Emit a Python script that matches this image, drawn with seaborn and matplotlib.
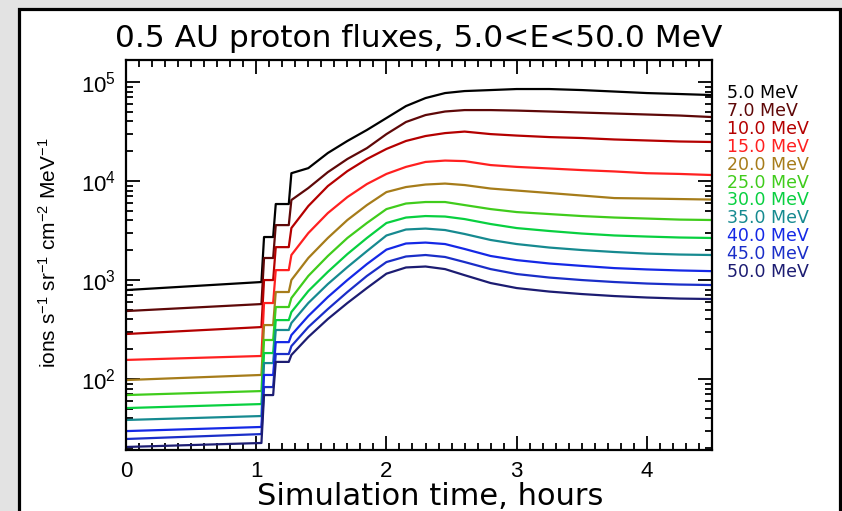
import numpy as np
import pandas as pd
import matplotlib
matplotlib.use("Agg")
import matplotlib.pyplot as plt
import seaborn as sns
from matplotlib.patches import Rectangle
from matplotlib.ticker import (LogLocator, FixedLocator, MultipleLocator,
                               FuncFormatter, NullFormatter)

# ---------------- data ----------------
time_h = [0, 1.04, 1.06, 1.13, 1.15, 1.25, 1.27, 1.4, 1.55, 1.7, 1.85, 2.0,
          2.15, 2.3, 2.45, 2.6, 2.8, 3.0, 3.25, 3.5, 3.75, 4.0, 4.25, 4.5]

energies = ["5.0 MeV", "7.0 MeV", "10.0 MeV", "15.0 MeV", "20.0 MeV",
            "25.0 MeV", "30.0 MeV", "35.0 MeV", "40.0 MeV", "45.0 MeV",
            "50.0 MeV"]

flux_5 = [792, 955, 2720, 2720, 5860, 5860, 12000, 13500, 19200, 25400, 32800, 43300,
          57200, 68900, 77400, 81100, 83000, 85000, 85000, 83000, 80200, 77400, 75700, 73900]
flux_7 = [486, 572, 1670, 1670, 3590, 3590, 6430, 8500, 12300, 16700, 21500, 29800,
          39500, 46400, 50400, 52100, 52100, 51500, 50400, 49200, 48100, 47000, 45900, 44300]
flux_10 = [285, 335, 1000, 1000, 2150, 2150, 3350, 5590, 8900, 12600, 16700, 21100,
           25400, 28500, 30500, 31600, 29800, 28800, 27800, 27200, 26300, 25700, 25100, 24800]
flux_15 = [156, 171, 586, 586, 1260, 1260, 1790, 2980, 4750, 6890, 9330, 11800,
           13900, 15600, 16100, 15900, 14500, 13900, 13400, 12900, 12500, 12000, 11800, 11500]
flux_20 = [97.7, 110, 351, 351, 757, 757, 1000, 1670, 2660, 4040, 5720, 7740,
           8700, 9220, 9430, 9110, 8400, 8020, 7570, 7140, 6730, 6660, 6580, 6500]
flux_25 = [68.9, 75.6, 248, 248, 534, 534, 658, 1100, 1750, 2660, 3770, 5210,
           5930, 6140, 6140, 5720, 5210, 4860, 4640, 4430, 4280, 4180, 4080, 4040]
flux_30 = [50.9, 55.9, 183, 183, 394, 394, 475, 774, 1210, 1830, 2660, 3770,
           4280, 4430, 4380, 4130, 3680, 3350, 3130, 2950, 2820, 2750, 2690, 2660]
flux_35 = [38.6, 42.3, 145, 145, 313, 313, 368, 586, 911, 1350, 1960, 2820,
           3240, 3310, 3200, 2920, 2540, 2310, 2130, 2010, 1920, 1850, 1810, 1790]
flux_40 = [29.8, 32.8, 110, 110, 236, 236, 278, 433, 673, 1000, 1450, 2030,
           2340, 2390, 2310, 2060, 1750, 1590, 1470, 1390, 1320, 1280, 1250, 1230]
flux_45 = [24.8, 27.8, 83.0, 83.0, 179, 179, 215, 335, 509, 757, 1100, 1520,
           1730, 1790, 1710, 1520, 1290, 1150, 1060, 1000, 955, 922, 901, 890]
flux_50 = [20.6, 22.6, 68.9, 68.9, 149, 149, 175, 266, 404, 586, 830, 1160,
           1340, 1370, 1290, 1120, 933, 830, 765, 722, 689, 666, 650, 643]

colors = ["#000000", "#5e0808", "#b40000", "#ff2020", "#a67c1a", "#40cc1c",
          "#08d040", "#168a90", "#1428e6", "#1a2ec8", "#1c1c72"]

x_ticks = [0, 1, 2, 3, 4]
title = "0.5 AU proton fluxes, 5.0<E<50.0 MeV"
x_label = "Simulation time, hours"
y_label = r"ions s$^{-1}$ sr$^{-1}$ cm$^{-2}$ MeV$^{-1}$"

# ---------------- style ----------------
sns.set_style("ticks")
plt.rcParams["font.family"] = ["DejaVu Sans"]
plt.rcParams["mathtext.fontset"] = "custom"
plt.rcParams["mathtext.rm"] = "Liberation Sans"
plt.rcParams["mathtext.it"] = "Liberation Sans:italic"
plt.rcParams["mathtext.bf"] = "Liberation Sans:bold"

W, H = 842, 511
fig = plt.figure(figsize=(W / 100, H / 100), dpi=100)
fig.patch.set_facecolor("#e3e3e3")
panel = Rectangle((18.5 / W, -0.1), (839.5 - 18.5) / W, 1.1 - 9.5 / H,
                  transform=fig.transFigure, facecolor="white",
                  edgecolor="black", lw=2.3, zorder=-5)
fig.add_artist(panel)

ax = fig.add_axes([126 / W, (H - 450) / H, 586 / W, 390 / H])
ax.set_facecolor("white")

series = [flux_5, flux_7, flux_10, flux_15, flux_20, flux_25, flux_30,
          flux_35, flux_40, flux_45, flux_50]
df = pd.concat([pd.DataFrame({"time": time_h, "flux": s, "energy": e})
                for s, e in zip(series, energies)], ignore_index=True)

sns.lineplot(data=df, x="time", y="flux", hue="energy", hue_order=energies,
             palette=dict(zip(energies, colors)), estimator=None, sort=False,
             legend=False, lw=1.6, ax=ax)

ax.set_yscale("log")
ax.set_xlim(0, 4.5)
ax.set_ylim(19.2, 1.67e5)

ax.xaxis.set_major_locator(FixedLocator(x_ticks))
ax.xaxis.set_minor_locator(MultipleLocator(0.1))
ax.yaxis.set_major_locator(LogLocator(base=10, numticks=10))
ax.yaxis.set_minor_locator(LogLocator(base=10, subs=np.arange(2, 10), numticks=20))
ax.yaxis.set_minor_formatter(NullFormatter())
ax.yaxis.set_major_formatter(
    FuncFormatter(lambda v, p: r"$\mathregular{10^{%d}}$" % round(np.log10(v))))
ax.xaxis.set_major_formatter(FuncFormatter(lambda v, p: "%d" % v))

ax.tick_params(which="both", direction="in", top=True, right=True,
               width=1.3, color="black", labelcolor="black",
               labelfontfamily="Liberation Sans")
ax.tick_params(which="major", length=10)
ax.tick_params(which="minor", length=5)
ax.tick_params(axis="x", which="major", labelsize=16, pad=8)
ax.tick_params(axis="y", which="major", labelsize=16, pad=7)
for sp in ax.spines.values():
    sp.set_linewidth(1.6)
    sp.set_color("black")

ax.set_title(title, fontsize=22.5, pad=9.4, color="black")
ax.set_xlabel(x_label, fontsize=22, color="black")
ax.xaxis.label.set_va("baseline")
ax.xaxis.set_label_coords(0.519, -0.141)
ax.set_ylabel(y_label, fontsize=15, family="Liberation Sans", color="black")
ax.yaxis.set_label_coords(-0.113, 0.505)

for i, (lab, col) in enumerate(zip(energies, colors)):
    ax.text((727 - 126) / 586, (450 - 93 - 17.9 * i) / 390, lab, color=col,
            fontsize=12.5, ha="left", va="center", transform=ax.transAxes)

fig.savefig("out.png", dpi=100, facecolor=fig.get_facecolor())
